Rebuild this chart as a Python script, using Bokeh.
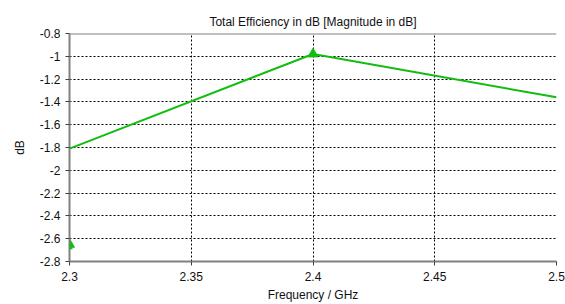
from bokeh.plotting import figure
from bokeh.models import Span, FixedTicker, Range1d, NumeralTickFormatter, Label
from bokeh.embed import file_html
from bokeh.resources import INLINE

freq = [2.3, 2.4, 2.5]
eff_db = [-1.81, -0.98, -1.36]
marker_freq = [2.4]
marker_db = [-0.98]
edge_marker_freq = 2.3
edge_marker_db = -2.65
x_ticks = [2.3, 2.35, 2.4, 2.45, 2.5]
y_ticks = [-0.8, -1.0, -1.2, -1.4, -1.6, -1.8, -2.0, -2.2, -2.4, -2.6, -2.8]

FONT = "Liberation Sans"
GREEN = "#12bd12"

p = figure(width=565, height=304, output_backend="svg", toolbar_location=None,
           x_range=Range1d(2.3, 2.5), y_range=Range1d(-2.8, -0.8),
           min_border_left=69, min_border_right=9, min_border_top=33, min_border_bottom=0)
p.title.text = "Total Efficiency in dB [Magnitude in dB]"
p.title.align = "center"
p.title.text_font = FONT
p.title.text_font_size = "12px"
p.title.text_font_style = "normal"
p.title.text_color = "#111111"
p.title.offset = 0
p.title.standoff = 10

p.outline_line_color = None
p.background_fill_color = "white"
p.border_fill_color = "white"

for g in (p.xgrid, p.ygrid):
    g.grid_line_color = "black"
    g.grid_line_dash = "2 2"
    g.grid_line_width = 1
p.xgrid.ticker = FixedTicker(ticks=x_ticks)
p.ygrid.ticker = FixedTicker(ticks=y_ticks)

p.xaxis.ticker = FixedTicker(ticks=x_ticks)
p.yaxis.ticker = FixedTicker(ticks=y_ticks)
p.xaxis.formatter = NumeralTickFormatter(format="0.[00]")
p.yaxis.formatter = NumeralTickFormatter(format="0.[0]")
p.xaxis.axis_label = "Frequency / GHz"
p.yaxis.axis_label = "dB"
for ax in (p.xaxis, p.yaxis):
    ax.axis_line_color = "#808080"
    ax.axis_line_width = 2
    ax.major_tick_line_color = "#404040"
    ax.major_tick_out = 4
    ax.major_tick_in = 0
    ax.minor_tick_line_color = None
    ax.major_label_text_font = FONT
    ax.major_label_text_font_size = "12px"
    ax.major_label_text_color = "#111111"
    ax.axis_label_text_font = FONT
    ax.axis_label_text_font_size = "12px"
    ax.axis_label_text_font_style = "normal"
    ax.axis_label_text_color = "#111111"
p.xaxis.major_label_standoff = 6
p.xaxis.axis_label_standoff = 4
p.yaxis.major_label_standoff = 5
p.yaxis.axis_label_standoff = 10

p.add_layout(Span(location=-0.8, dimension="width", line_color="#808080", line_width=2))

p.line(freq, eff_db, line_color=GREEN, line_width=2)
p.scatter(marker_freq, marker_db, marker="triangle", size=10,
          fill_color=GREEN, line_color=GREEN)
p.scatter([edge_marker_freq], [edge_marker_db], marker="triangle", size=10,
          fill_color=GREEN, line_color=GREEN)
p.add_layout(Label(x=edge_marker_freq, y=edge_marker_db, text="\u25b2",
                   text_align="center", text_baseline="middle",
                   text_font="DejaVu Sans", text_font_size="11px", text_color=GREEN,
                   x_offset=-1, level="overlay"))

open("out.html", "w").write(file_html(p, INLINE))
